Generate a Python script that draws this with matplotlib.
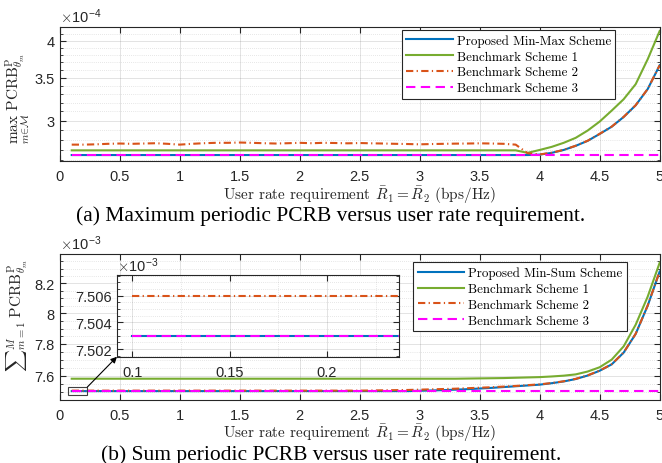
import numpy as np
import matplotlib
matplotlib.use("Agg")
import matplotlib.pyplot as plt
from matplotlib.patches import Rectangle

plt.rcParams['mathtext.fontset'] = 'cm'
plt.rcParams['axes.unicode_minus'] = False

# user rate requirement (bps/Hz)
rate = [0.1, 0.2, 0.3, 0.4, 0.5, 0.6, 0.7, 0.8, 0.9, 1.0,
        1.1, 1.2, 1.3, 1.4, 1.5, 1.6, 1.7, 1.8, 1.9, 2.0,
        2.1, 2.2, 2.3, 2.4, 2.5, 2.6, 2.7, 2.8, 2.9, 3.0,
        3.1, 3.2, 3.3, 3.4, 3.5, 3.6, 3.7, 3.8, 3.9, 4.0,
        4.1, 4.2, 4.3, 4.4, 4.5, 4.6, 4.7, 4.8, 4.9, 5.0]

# (a) max PCRB, units of 1e-4
minmax_a = [2.651] * 39 + [2.655, 2.672, 2.700, 2.740, 2.790, 2.860, 2.935, 3.040, 3.170, 3.360, 3.660]
bench1_a = [2.696] * 38 + [2.672, 2.700, 2.730, 2.770, 2.820, 2.895, 2.990, 3.110, 3.240, 3.420, 3.740, 4.140]
bench2_a = [2.752, 2.752, 2.755, 2.760, 2.763, 2.760, 2.763, 2.766, 2.760, 2.752,
            2.760, 2.766, 2.770, 2.770, 2.773, 2.770, 2.766, 2.763, 2.766, 2.770,
            2.766, 2.770, 2.768, 2.765, 2.768, 2.765, 2.763, 2.760, 2.758, 2.755,
            2.758, 2.760, 2.762, 2.763, 2.765, 2.763, 2.760, 2.752, 2.668,
            2.657, 2.673, 2.701, 2.741, 2.791, 2.861, 2.936, 3.041, 3.171, 3.361, 3.661]
bench3_a = [2.651] * 50

# (b) sum PCRB, units of 1e-3
minsum_b = [7.5030] * 29 + [7.505, 7.507, 7.509, 7.512, 7.515, 7.519, 7.523, 7.528, 7.533, 7.538,
                            7.543, 7.552, 7.563, 7.578, 7.600, 7.630, 7.670, 7.745, 7.865, 8.050, 8.280]
bench1_b = [7.580] * 33 + [7.581, 7.582, 7.583, 7.584, 7.586, 7.588, 7.590, 7.594, 7.599, 7.607,
                           7.625, 7.652, 7.700, 7.785, 7.925, 8.110, 8.340]
bench2_b = [7.5060] * 25 + [7.507, 7.508, 7.509, 7.510, 7.512, 7.514, 7.516, 7.518, 7.521, 7.524,
                            7.527, 7.531, 7.535, 7.540, 7.545, 7.553, 7.564, 7.579, 7.601, 7.631,
                            7.671, 7.746, 7.866, 8.051, 8.281]
bench3_b = [7.5030] * 50

labels_a = ['Proposed Min-Max Scheme', 'Benchmark Scheme 1', 'Benchmark Scheme 2', 'Benchmark Scheme 3']
labels_b = ['Proposed Min-Sum Scheme', 'Benchmark Scheme 1', 'Benchmark Scheme 2', 'Benchmark Scheme 3']

c_blue = '#0072BD'
c_green = '#77AC30'
c_orange = '#D95319'
c_mag = '#FF00FF'
edge = '#262626'
tick_font = 'Liberation Sans'
cm_font = 'cmr10'

x = np.array(rate)


def draw_lines(ax, s1, s2, s3, s4, scale):
    ax.plot(x, np.array(s1) * scale, color=c_blue, lw=1.5)
    ax.plot(x, np.array(s2) * scale, color=c_green, lw=1.5)
    ax.plot(x, np.array(s3) * scale, color=c_orange, lw=1.5, dashes=(3.5, 1.6, 0.6, 1.6))
    ax.plot(x, np.array(s4) * scale, color=c_mag, lw=1.5, dashes=(4.5, 2.6))


def style(ax):
    for sp in ax.spines.values():
        sp.set_color(edge)
        sp.set_linewidth(0.8)
    ax.tick_params(which='both', direction='in', top=True, right=True, colors=edge,
                   labelcolor='#262626', labelsize=10.5)
    ax.tick_params(which='major', length=4)
    ax.tick_params(which='minor', length=2.5)
    ax.tick_params(axis='x', pad=6)
    ax.grid(which='major', color=edge, alpha=0.15, lw=0.6)
    ax.grid(which='minor', color=edge, alpha=0.22, lw=0.5, ls=(0, (1, 2)))
    for t in ax.get_xticklabels() + ax.get_yticklabels():
        t.set_fontfamily(tick_font)


def legend(ax, labels, anchor):
    leg = ax.legend(labels, loc='upper right', bbox_to_anchor=anchor, borderaxespad=0,
                    prop={'family': cm_font, 'size': 9.3}, fancybox=False, framealpha=1,
                    edgecolor=edge, handlelength=3.6, labelspacing=0.28, borderpad=0.35,
                    handletextpad=0.3)
    leg.get_frame().set_linewidth(0.8)
    return leg


xlabel = r'User rate requirement $\bar{R}_1 = \bar{R}_2$ (bps/Hz)'
xticks = np.arange(0, 5.01, 0.5)
xticklabels = ['0', '0.5', '1', '1.5', '2', '2.5', '3', '3.5', '4', '4.5', '5']

fig = plt.figure(figsize=(6.62, 4.64), dpi=100)

# ---------- (a) ----------
ax1 = fig.add_axes([0.0902, 0.6509, 0.9063, 0.2888])
draw_lines(ax1, minmax_a, bench1_a, bench2_a, bench3_a, 1e-4)
ax1.set_yscale('log')
ax1.set_xlim(0, 5)
ax1.set_ylim(2.595e-4, 4.20e-4)
ax1.set_xticks(xticks, xticklabels)
ax1.set_yticks([3e-4, 3.5e-4, 4e-4], ['3', '3.5', '4'])
ax1.set_yticks([v * 1e-4 for v in [2.6, 2.7, 2.8, 2.9, 3.1, 3.2, 3.3, 3.4, 3.6, 3.7, 3.8, 3.9, 4.1, 4.2]],
               minor=True)
ax1.yaxis.set_minor_formatter(matplotlib.ticker.NullFormatter())
style(ax1)
ax1.text(0.0, 1.015, r'$\times$10$^{\mathregular{-4}}$', transform=ax1.transAxes, fontsize=10.5,
         family=tick_font, color='#262626', va='bottom', ha='left')
ax1.set_xlabel(xlabel, family=cm_font, fontsize=11, labelpad=0, color='#262626')
fig.text(18 / 662, 1 - 98 / 464, r'$\max_{m\in\mathcal{M}}\ \mathrm{PCRB}^{\mathrm{P}}_{\theta_m}$',
         rotation=90, ha='center', va='center', fontsize=11, color='#262626')
legend(ax1, labels_a, (0.926, 0.98))

# ---------- (b) ----------
ax2 = fig.add_axes([0.0902, 0.1364, 0.9063, 0.314])
draw_lines(ax2, minsum_b, bench1_b, bench2_b, bench3_b, 1e-3)
ax2.set_yscale('log')
ax2.set_xlim(0, 5)
ax2.set_ylim(7.455e-3, 8.40e-3)
ax2.set_xticks(xticks, xticklabels)
ax2.set_yticks([7.6e-3, 7.8e-3, 8.0e-3, 8.2e-3], ['7.6', '7.8', '8', '8.2'])
minor_b = [7.45, 7.5, 7.55, 7.65, 7.7, 7.75, 7.85, 7.9, 7.95, 8.05, 8.1, 8.15, 8.25, 8.3, 8.35, 8.4]
ax2.set_yticks([v * 1e-3 for v in minor_b], minor=True)
ax2.yaxis.set_minor_formatter(matplotlib.ticker.NullFormatter())
style(ax2)
ax2.text(0.0, 1.015, r'$\times$10$^{\mathregular{-3}}$', transform=ax2.transAxes, fontsize=10.5,
         family=tick_font, color='#262626', va='bottom', ha='left')
ax2.set_xlabel(xlabel, family=cm_font, fontsize=11, labelpad=0, color='#262626')
fig.text(17 / 662, 1 - 316 / 464, r'$\sum{}_{m=1}^{M}\ \mathrm{PCRB}^{\mathrm{P}}_{\theta_m}$',
         rotation=90, ha='center', va='center', fontsize=11, color='#262626')
legend(ax2, labels_b, (0.9455, 0.943))

# zoom box in main axes
box_x = (0.07, 0.23)
box_y = (7.478e-3, 7.528e-3)
ax2.add_patch(Rectangle((box_x[0], box_y[0]), box_x[1] - box_x[0], box_y[1] - box_y[0],
                        fill=False, ec='#404040', lw=0.8, zorder=5))

# inset
axi = fig.add_axes([0.1767, 0.229, 0.426, 0.176])
draw_lines(axi, minsum_b, bench1_b, bench2_b, bench3_b, 1e-3)
axi.set_xlim(0.0921, 0.237)
axi.set_ylim(7.50142e-3, 7.50755e-3)
axi.set_xticks([0.1, 0.15, 0.2], ['0.1', '0.15', '0.2'])
axi.set_xticks([0.125, 0.175, 0.225], minor=True)
axi.set_yticks([7.502e-3, 7.504e-3, 7.506e-3], ['7.502', '7.504', '7.506'])
axi.set_yticks([v * 1e-3 for v in [7.5015, 7.5025, 7.503, 7.5035, 7.5045, 7.505, 7.5055, 7.5065, 7.507, 7.5075]],
               minor=True)
axi.xaxis.set_minor_formatter(matplotlib.ticker.NullFormatter())
axi.yaxis.set_minor_formatter(matplotlib.ticker.NullFormatter())
style(axi)
axi.tick_params(axis='x', which='minor', length=0)
axi.text(0.0, 1.01, r'$\times$10$^{\mathregular{-3}}$', transform=axi.transAxes, fontsize=10.5,
         family=tick_font, color='#262626', va='bottom', ha='left')

# arrow from zoom box to inset
ax2.annotate('', xy=(0, 0), xycoords=axi.transAxes,
             xytext=(box_x[1], box_y[1]), textcoords='data',
             arrowprops=dict(arrowstyle='-|>', color='black', lw=0.8, mutation_scale=9,
                             shrinkA=0, shrinkB=0), zorder=6)

# captions
fig.text(0.5, 1 - 216 / 464, '(a) Maximum periodic PCRB versus user rate requirement.',
         ha='center', va='center', family='Liberation Serif', fontsize=15.5)
fig.text(0.5, 1 - 455 / 464, '(b) Sum periodic PCRB versus user rate requirement.',
         ha='center', va='center', family='Liberation Serif', fontsize=15.5)

fig.savefig('out.png', dpi=100)
